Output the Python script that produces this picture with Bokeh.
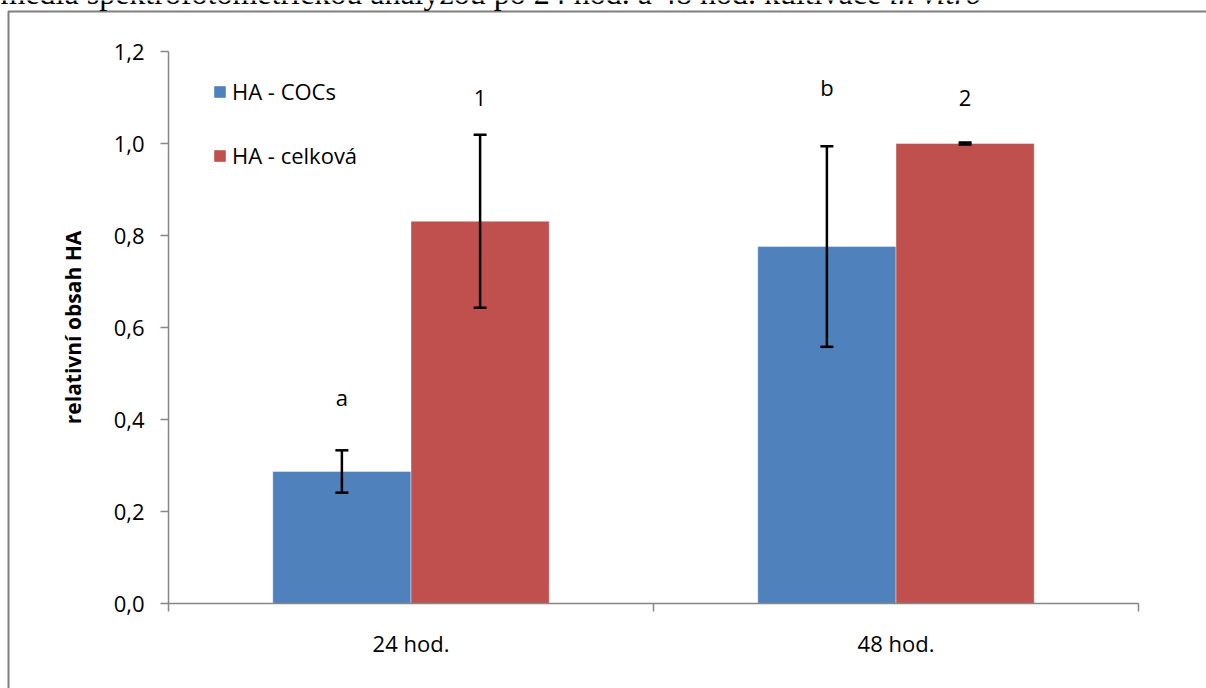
from bokeh.plotting import figure
from bokeh.models import (Range1d, FixedTicker, CustomJSTickFormatter, ColumnDataSource,
                          Whisker, TeeHead, Legend, LegendItem)
from bokeh.embed import file_html
from bokeh.resources import INLINE
from bokeh.core.properties import value

# ---- data ----
categories = ["24 hod.", "48 hod."]
series_names = ["HA - COCs", "HA - celková"]
coc_values = [0.287, 0.776]
coc_errors = [0.046, 0.218]
total_values = [0.831, 1.000]
total_errors = [0.188, 0.002]
coc_letters = ["a", "b"]
coc_letter_y = [0.450, 1.122]
total_letters = ["1", "2"]
total_letter_y = [1.098, 1.098]
y_ticks = [0.0, 0.2, 0.4, 0.6, 0.8, 1.0, 1.2]
y_max = 1.2
y_label = "relativní obsah HA"
caption = "media spektrofotometrickou analýzou po 24 hod. a 48 hod. kultivace "
caption_italic = "in vitro"

FONT = "Open Sans"
SERIF = "Liberation Serif"
BLUE = "#4F81BD"
RED = "#C0504D"
AXIS = "#868686"
BOX = "#7f7f7f"
W = 0.285
OFF = 0.1425

# canvas and the plotting area of the chart inside it (pixels)
CW, CH = 1206, 688
AL, AR, AT, AB = 168, 1138, 51, 603
ncat = len(categories)
px_per_x = (AR - AL) / ncat
px_per_y = (AB - AT) / y_max

centers = [i + 0.5 for i in range(ncat)]
coc_x = [c - OFF for c in centers]
tot_x = [c + OFF for c in centers]

p = figure(width=CW, height=CH, output_backend="svg", toolbar_location=None,
           x_range=Range1d(-AL / px_per_x, ncat + (CW - AR) / px_per_x),
           y_range=Range1d(-(CH - AB) / px_per_y, y_max + AT / px_per_y),
           min_border=0, min_border_left=0, min_border_right=0,
           min_border_top=0, min_border_bottom=0)
p.extra_x_ranges = {"px": Range1d(0, CW)}
p.extra_y_ranges = {"px": Range1d(CH, 0)}
p.outline_line_color = None
p.grid.visible = False
p.background_fill_color = "white"
p.border_fill_color = "white"

# figure box and the cropped caption line above it (page decoration)
p.quad(left=[8], right=[CW + 60], top=[11], bottom=[CH + 60], fill_color=None,
       line_color=BOX, line_width=2, x_range_name="px", y_range_name="px")
p.text(x=[0], y=[-8], text=[caption], text_font=value(SERIF), text_font_size="32px",
       text_baseline="alphabetic", text_align="left", text_color="black",
       x_range_name="px", y_range_name="px")
p.text(x=[889], y=[-8], text=[caption_italic], text_font=value(SERIF), text_font_size="32px",
       text_font_style="italic", text_baseline="alphabetic", text_align="left",
       text_color="black", x_range_name="px", y_range_name="px")

src_c = ColumnDataSource(dict(x=coc_x, top=coc_values,
                              upper=[v + e for v, e in zip(coc_values, coc_errors)],
                              lower=[v - e for v, e in zip(coc_values, coc_errors)],
                              ty=coc_letter_y, t=coc_letters))
src_t = ColumnDataSource(dict(x=tot_x, top=total_values,
                              upper=[v + e for v, e in zip(total_values, total_errors)],
                              lower=[v - e for v, e in zip(total_values, total_errors)],
                              ty=total_letter_y, t=total_letters))

r_c = p.vbar(x="x", top="top", width=W, bottom=0, source=src_c, fill_color=BLUE,
             line_color="white", line_alpha=0.4, line_width=1)
r_t = p.vbar(x="x", top="top", width=W, bottom=0, source=src_t, fill_color=RED,
             line_color="white", line_alpha=0.4, line_width=1)

for s in (src_c, src_t):
    wk = Whisker(base="x", upper="upper", lower="lower", source=s, dimension="height",
                 line_color="black", line_width=2.5, level="overlay",
                 upper_head=TeeHead(size=13, line_color="black", line_width=2.5),
                 lower_head=TeeHead(size=13, line_color="black", line_width=2.5))
    p.add_layout(wk)
    p.text(x="x", y="ty", text="t", source=s, text_font=value(FONT), text_font_size="22px",
           text_align="center", text_baseline="middle", text_color="black")

# axes
ya = p.yaxis[0]
ya.fixed_location = 0
ya.bounds = (0, y_max)
ya.ticker = FixedTicker(ticks=y_ticks, minor_ticks=[])
ya.formatter = CustomJSTickFormatter(code="return tick.toFixed(1).replace('.', ',');")
ya.axis_line_color = AXIS
ya.axis_line_width = 1.5
ya.major_tick_line_color = AXIS
ya.major_tick_line_width = 1.5
ya.major_tick_out = 8
ya.major_tick_in = 0
ya.minor_tick_line_color = None
ya.major_label_text_font = FONT
ya.major_label_text_font_size = "22px"
ya.major_label_text_color = "black"
ya.major_label_standoff = 16
ya.axis_label = y_label
ya.axis_label_text_font = FONT
ya.axis_label_text_font_style = "bold"
ya.axis_label_text_font_size = "21px"
ya.axis_label_text_color = "black"
ya.axis_label_standoff = 24

xa = p.xaxis[0]
xa.fixed_location = 0
xa.bounds = (0, ncat)
xa.ticker = FixedTicker(ticks=centers, minor_ticks=list(range(ncat + 1)))
xa.formatter = CustomJSTickFormatter(args=dict(labels=categories),
                                     code="const i = Math.round(tick - 0.5); return labels[i] || '';")
xa.axis_line_color = AXIS
xa.axis_line_width = 1.5
xa.major_tick_line_color = None
xa.major_tick_out = 0
xa.major_tick_in = 0
xa.minor_tick_line_color = AXIS
xa.minor_tick_line_width = 1.5
xa.minor_tick_out = 8
xa.minor_tick_in = 0
xa.major_label_text_font = FONT
xa.major_label_text_font_size = "22px"
xa.major_label_text_color = "black"
xa.major_label_standoff = 16

legend = Legend(items=[LegendItem(label=series_names[0], renderers=[r_c]),
                       LegendItem(label=series_names[1], renderers=[r_t])],
                location=(AL + 44, CH - 170), orientation="vertical",
                glyph_width=15, glyph_height=15, label_height=15, spacing=34,
                label_standoff=5, padding=0, margin=0,
                border_line_color=None, background_fill_alpha=0,
                label_text_font=FONT, label_text_font_size="22px",
                label_text_baseline="middle", label_text_color="black")
p.add_layout(legend)

open("out.html", "w").write(file_html(p, INLINE))
